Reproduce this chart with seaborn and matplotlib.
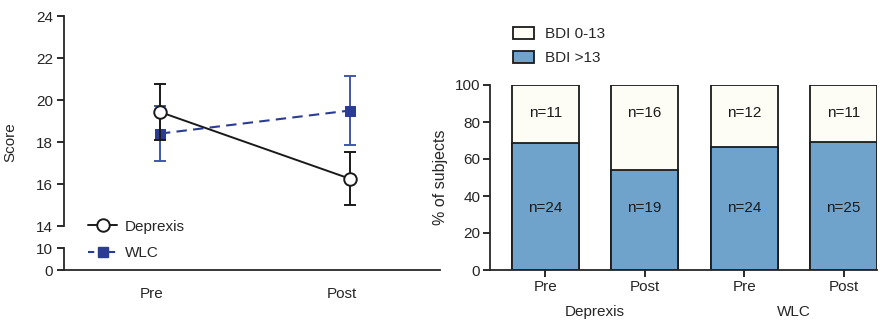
import matplotlib
matplotlib.use("Agg")
import matplotlib.pyplot as plt
import matplotlib.transforms as mtransforms
import seaborn as sns
import pandas as pd
import numpy as np
from matplotlib.lines import Line2D
from matplotlib.patches import Patch

# ---------------- data ----------------
times = ["Pre", "Post"]
deprexis_mean = [19.43, 16.25]
deprexis_err = [1.33, 1.27]
wlc_mean = [18.40, 19.50]
wlc_err = [1.32, 1.65]

bar_groups = ["Deprexis", "Deprexis", "WLC", "WLC"]
bar_times = ["Pre", "Post", "Pre", "Post"]
n_low = [11, 16, 12, 11]    # BDI 0-13
n_high = [24, 19, 24, 25]   # BDI >13

# ---------------- style ----------------
sns.set_theme(style="ticks")
plt.rcParams["font.family"] = ["Liberation Sans", "DejaVu Sans"]
plt.rcParams["axes.linewidth"] = 1.3
plt.rcParams["xtick.major.width"] = 1.3
plt.rcParams["ytick.major.width"] = 1.3

BLACK = "#1a1a1a"
NAVY = "#2b3d92"
NAVY_ERR = "#4257aa"
BAR_BLUE = "#70a3cb"
BAR_WHITE = "#fdfdf6"
TICK_FS = 11

fig = plt.figure(figsize=(8.83, 3.2), dpi=100)
W, H = 883, 320

def rect(l, t, r, b):
    return [l / W, 1 - b / H, (r - l) / W, (b - t) / H]

ax_up = fig.add_axes(rect(64, 16, 440, 226))
ax_lo = fig.add_axes(rect(64, 248, 440, 270))

df_line = pd.DataFrame({
    "time": times * 2,
    "score": deprexis_mean + wlc_mean,
    "err": deprexis_err + wlc_err,
    "group": ["Deprexis"] * 2 + ["WLC"] * 2,
})
xpos = np.arange(len(times))

# WLC (behind)
w = df_line[df_line.group == "WLC"]
ax_up.errorbar(xpos, w.score, yerr=w.err, fmt="none", ecolor=NAVY_ERR,
               elinewidth=1.4, capsize=4.5, capthick=1.4, zorder=2)
sns.lineplot(x=xpos, y=w.score.values, ax=ax_up, color=NAVY, lw=1.5,
             linestyle=(0, (5, 3)), marker="s", markersize=7.5,
             markerfacecolor=NAVY, markeredgecolor=NAVY, zorder=3)
# Deprexis (front)
d = df_line[df_line.group == "Deprexis"]
ax_up.errorbar(xpos, d.score, yerr=d.err, fmt="none", ecolor=BLACK,
               elinewidth=1.4, capsize=4.5, capthick=1.4, zorder=4)
sns.lineplot(x=xpos, y=d.score.values, ax=ax_up, color=BLACK, lw=1.4,
             marker="o", markersize=9, markerfacecolor="white",
             markeredgecolor=BLACK, markeredgewidth=1.4, zorder=5)

xl = (-0.505, 1.474)
for a in (ax_up, ax_lo):
    a.set_xlim(*xl)
    a.set_facecolor("none")
    for s in ("top", "right"):
        a.spines[s].set_visible(False)
    a.tick_params(axis="y", length=5, color=BLACK, labelsize=TICK_FS, pad=3)
ax_up.set_ylim(14, 24)
ax_up.set_yticks([14, 16, 18, 20, 22, 24])
ax_up.spines["bottom"].set_visible(False)
ax_up.tick_params(axis="x", bottom=False, labelbottom=False)
ax_up.set_ylabel("Score", fontsize=11)
ax_up.yaxis.set_label_coords(-0.125, 0.4)

ax_lo.set_ylim(0, 10)
ax_lo.set_yticks([0, 10])
ax_lo.set_xticks(xpos)
ax_lo.set_xticklabels(times, fontsize=TICK_FS)
ax_lo.tick_params(axis="x", length=0, pad=12)
shift = mtransforms.ScaledTranslation(-8 / 100, 0, fig.dpi_scale_trans)
for lab in ax_lo.get_xticklabels():
    lab.set_transform(lab.get_transform() + shift)
ax_lo.set_xlabel("")
ax_lo.set_ylabel("")

handles = [
    Line2D([], [], color=BLACK, lw=1.4, marker="o", markersize=9,
           markerfacecolor="white", markeredgewidth=1.4),
    Line2D([], [], color=NAVY, lw=1.5, linestyle=(0, (3, 2)), marker="s",
           markersize=7.5),
]
fig.legend(handles, ["Deprexis", "WLC"], loc="center left",
           bbox_to_anchor=(88 / W, 1 - 240 / H), frameon=False, fontsize=11,
           borderaxespad=0, borderpad=0, handlelength=1.9, handletextpad=0.5,
           labelspacing=0.85)

# ---------------- right panel ----------------
ax_b = fig.add_axes(rect(490, 85, 877, 270))
df_bar = pd.DataFrame({
    "key": [g + " " + t for g, t in zip(bar_groups, bar_times)],
    "low": n_low, "high": n_high,
})
df_bar["total"] = 100.0
df_bar["pct_high"] = df_bar.high / (df_bar.high + df_bar.low) * 100

sns.barplot(data=df_bar, x="key", y="total", ax=ax_b, color=BAR_WHITE,
            width=0.67, edgecolor=BLACK, linewidth=1.3, saturation=1)
sns.barplot(data=df_bar, x="key", y="pct_high", ax=ax_b, color=BAR_BLUE,
            width=0.67, edgecolor=BLACK, linewidth=1.3, saturation=1)

for i, (lo, hi) in enumerate(zip(n_low, n_high)):
    ax_b.text(i, 85, f"n={lo}", ha="center", va="center", fontsize=11,
              color=BLACK)
    ax_b.text(i, 33.5, f"n={hi}", ha="center", va="center", fontsize=11,
              color=BLACK)

ax_b.set_xlim(-0.555, 3.335)
ax_b.set_ylim(0, 100)
ax_b.set_yticks([0, 20, 40, 60, 80, 100])
ax_b.set_xticks(range(4))
ax_b.set_xticklabels(bar_times, fontsize=TICK_FS)
ax_b.tick_params(axis="both", length=5, color=BLACK, labelsize=TICK_FS, pad=2)
ax_b.set_xlabel("")
ax_b.set_ylabel("% of subjects", fontsize=11.5, labelpad=5)
ax_b.set_facecolor("none")
for s in ("top", "right"):
    ax_b.spines[s].set_visible(False)

for gname, cx in (("Deprexis", 0.5), ("WLC", 2.5)):
    ax_b.text(cx, -0.225, gname, transform=ax_b.get_xaxis_transform(),
              ha="center", va="center", fontsize=11)

patches = [Patch(facecolor=BAR_WHITE, edgecolor=BLACK, linewidth=1.3),
           Patch(facecolor=BAR_BLUE, edgecolor=BLACK, linewidth=1.3)]
fig.legend(patches, ["BDI 0-13", "BDI >13"], loc="upper left",
           bbox_to_anchor=(513 / W, 1 - 27 / H), frameon=False, fontsize=11,
           borderaxespad=0, borderpad=0, handlelength=1.35, handleheight=0.8,
           handletextpad=0.75, labelspacing=0.65)

fig.savefig("out.png", dpi=100, facecolor="white")
